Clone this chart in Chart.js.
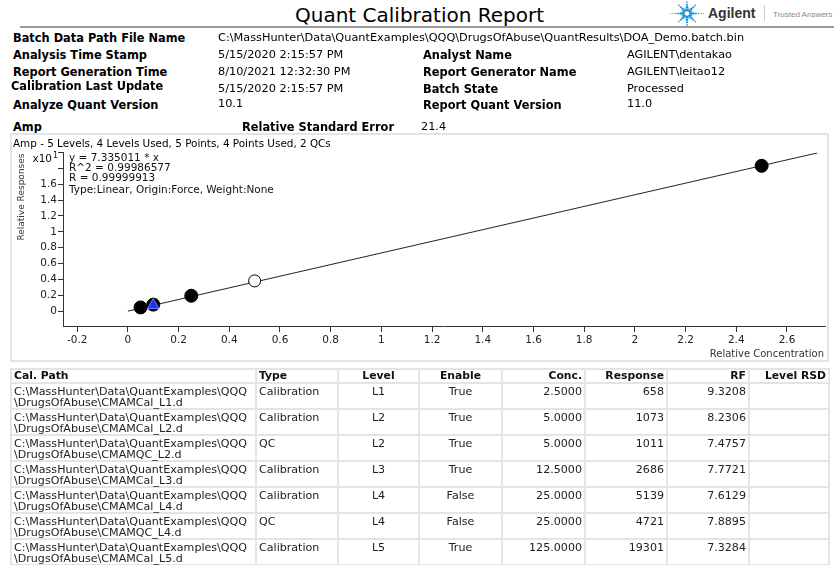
<!DOCTYPE html>
<html>
<head>
<meta charset="utf-8">
<title>Quant Calibration Report</title>
<script src="https://cdn.jsdelivr.net/npm/chart.js@4.4.1/dist/chart.umd.min.js"></script>
<style>
  body { margin: 0; width: 834px; height: 565px; background: #fff; position: relative; overflow: hidden;
         font-family: "DejaVu Sans", sans-serif; color: #000; }
  .abs { position: absolute; white-space: nowrap; }
  .lbl { font-weight: bold; font-size: 11.4px; line-height: 14px; }
  .val { font-size: 11.3px; line-height: 14px; }
  #title { left: 295px; top: 3px; font-size: 20px; line-height: 24px; }
  #rule { position: absolute; left: 20px; top: 26px; width: 814px; height: 2px; background: #9a9a9a; }
  #brand { left: 708px; top: 5px; font-family: "Liberation Sans", sans-serif; font-weight: bold; font-size: 14px;
           line-height: 16px; color: #333; }
  #divider { position: absolute; left: 764px; top: 5px; width: 1px; height: 16px; background: #ccc; }
  #tagline { left: 773px; top: 10px; font-family: "Liberation Sans", sans-serif; font-size: 8px; line-height: 10px; color: #888; }
  #chartBox { position: absolute; left: 10px; top: 133px; width: 815px; height: 225px; border: 2px solid #e4e4e4; }
  #chartHead { left: 13px; top: 136px; font-size: 10.4px; line-height: 14px; }
  #chart { position: absolute; left: 0; top: 145px; }
  #calTable { position: absolute; left: 10px; top: 368px; border-collapse: collapse; table-layout: fixed;
              font-size: 11.1px; color: #222; }
  #calTable td, #calTable th { border: 2px solid #e4e4e4; padding: 0 2px; overflow: visible; white-space: nowrap; }
  #calTable th { font-weight: bold; font-size: 10.8px; line-height: 12px; height: 12px; color: #111; }
  #calTable td { vertical-align: top; line-height: 11px; height: 22px; padding-top: 2px; }
  .l { text-align: left; } .c { text-align: center; } .r { text-align: right; }
</style>
</head>
<body>

<div id="title" class="abs">Quant Calibration Report</div>
<canvas id="spark" width="40" height="28" style="position:absolute;left:667px;top:0"></canvas>
<div id="brand" class="abs">Agilent</div>
<div id="divider"></div>
<div id="tagline" class="abs">Trusted Answers</div>
<div id="rule"></div>

<div class="abs lbl" style="left:13px;top:31px">Batch Data Path File Name</div>
<div class="abs val" style="left:218px;top:31px">C:\MassHunter\Data\QuantExamples\QQQ\DrugsOfAbuse\QuantResults\DOA_Demo.batch.bin</div>

<div class="abs lbl" style="left:13px;top:48px">Analysis Time Stamp</div>
<div class="abs val" style="left:218px;top:48px">5/15/2020 2:15:57 PM</div>
<div class="abs lbl" style="left:423px;top:48px">Analyst Name</div>
<div class="abs val" style="left:627px;top:48px">AGILENT\dentakao</div>

<div class="abs lbl" style="left:13px;top:65px">Report Generation Time</div>
<div class="abs val" style="left:218px;top:65px">8/10/2021 12:32:30 PM</div>
<div class="abs lbl" style="left:423px;top:65px">Report Generator Name</div>
<div class="abs val" style="left:627px;top:65px">AGILENT\leitao12</div>

<div class="abs lbl" style="left:11px;top:79px">Calibration Last Update</div>
<div class="abs val" style="left:218px;top:82px">5/15/2020 2:15:57 PM</div>
<div class="abs lbl" style="left:423px;top:82px">Batch State</div>
<div class="abs val" style="left:627px;top:82px">Processed</div>

<div class="abs lbl" style="left:13px;top:98px">Analyze Quant Version</div>
<div class="abs val" style="left:218px;top:97px">10.1</div>
<div class="abs lbl" style="left:423px;top:98px">Report Quant Version</div>
<div class="abs val" style="left:627px;top:97px">11.0</div>

<div class="abs lbl" style="left:13px;top:120px">Amp</div>
<div class="abs lbl" style="left:242px;top:120px">Relative Standard Error</div>
<div class="abs val" style="left:421px;top:120px">21.4</div>

<div id="chartBox"></div>
<div id="chartHead" class="abs">Amp - 5 Levels, 4 Levels Used, 5 Points, 4 Points Used, 2 QCs</div>
<canvas id="chart" width="834" height="215"></canvas>

<table id="calTable"></table>

<script>
// calibration points (relative concentration vs relative response, response in x10^1)
const calConc = [0.05, 0.1, 0.25, 2.5];
const calResp = [0.047, 0.082, 0.194, 1.832];
const offConc = [0.5];          // level excluded from the fit
const offResp = [0.381];
const qcConc = [0.1];
const qcResp = [0.075];
// fitted curve y = 7.335011 * x, drawn in x10^1 units
const fitConc = [0, 2.72];
const fitResp = [0, 1.995];

const xTicks = [-0.2, 0, 0.2, 0.4, 0.6, 0.8, 1, 1.2, 1.4, 1.6, 1.8, 2, 2.2, 2.4, 2.6];
const yTicks = [0, 0.2, 0.4, 0.6, 0.8, 1, 1.2, 1.4, 1.6, 1.8, 2];

const fitText = [
  'y = 7.335011 * x',
  'R^2 = 0.99986577',
  'R = 0.99999913',
  'Type:Linear, Origin:Force, Weight:None'
];

// table rows
const calPaths = [
  'C:\\MassHunter\\Data\\QuantExamples\\QQQ\\DrugsOfAbuse\\CMAMCal_L1.d',
  'C:\\MassHunter\\Data\\QuantExamples\\QQQ\\DrugsOfAbuse\\CMAMCal_L2.d',
  'C:\\MassHunter\\Data\\QuantExamples\\QQQ\\DrugsOfAbuse\\CMAMQC_L2.d',
  'C:\\MassHunter\\Data\\QuantExamples\\QQQ\\DrugsOfAbuse\\CMAMCal_L3.d',
  'C:\\MassHunter\\Data\\QuantExamples\\QQQ\\DrugsOfAbuse\\CMAMCal_L4.d',
  'C:\\MassHunter\\Data\\QuantExamples\\QQQ\\DrugsOfAbuse\\CMAMQC_L4.d',
  'C:\\MassHunter\\Data\\QuantExamples\\QQQ\\DrugsOfAbuse\\CMAMCal_L5.d'
];
const sampleTypes = ['Calibration', 'Calibration', 'QC', 'Calibration', 'Calibration', 'QC', 'Calibration'];
const levels = ['L1', 'L2', 'L2', 'L3', 'L4', 'L4', 'L5'];
const enabled = ['True', 'True', 'True', 'True', 'False', 'False', 'True'];
const concs = ['2.5000', '5.0000', '5.0000', '12.5000', '25.0000', '25.0000', '125.0000'];
const responses = ['658', '1073', '1011', '2686', '5139', '4721', '19301'];
const rfs = ['9.3208', '8.2306', '7.4757', '7.7721', '7.6129', '7.8895', '7.3284'];

const colWidths = [245, 82, 81, 83, 83, 82, 82, 80];
const headers = [['Cal. Path', 'l'], ['Type', 'l'], ['Level', 'c'], ['Enable', 'c'],
                 ['Conc.', 'r'], ['Response', 'r'], ['RF', 'r'], ['Level RSD', 'r']];

// ---- table ----
let html = '<colgroup>' + colWidths.map(w => `<col style="width:${w}px">`).join('') + '</colgroup>';
html += '<tr>' + headers.map(h => `<th class="${h[1]}">${h[0]}</th>`).join('') + '</tr>';
calPaths.forEach((p, i) => {
  const path = p.replace('QQQ\\', 'QQQ<br>\\');
  html += '<tr>' +
    `<td class="l">${path}</td>` +
    `<td class="l">${sampleTypes[i]}</td>` +
    `<td class="c">${levels[i]}</td>` +
    `<td class="c">${enabled[i]}</td>` +
    `<td class="r">${concs[i]}</td>` +
    `<td class="r">${responses[i]}</td>` +
    `<td class="r">${rfs[i]}</td>` +
    '<td></td></tr>';
});
document.getElementById('calTable').innerHTML = html;

// ---- logo spark ----
(function () {
  const c = document.getElementById('spark').getContext('2d');
  const cx = 20, cy = 13.5;
  c.fillStyle = '#1590d8';
  const rays = [[0, 6], [180, 6], [90, 5], [270, 5], [45, 4], [135, 4], [225, 4], [315, 4]];
  rays.forEach(([deg, n]) => {
    const a = deg * Math.PI / 180;
    for (let k = 1; k <= n; k++) {
      const d = 2.6 * k + 1;
      const r = Math.max(0.55, 1.7 - k * 0.22);
      c.beginPath();
      c.arc(cx + Math.cos(a) * d, cy - Math.sin(a) * d, r, 0, Math.PI * 2);
      c.fill();
    }
  });
  for (let deg = 22.5; deg < 360; deg += 45) {
    const a = deg * Math.PI / 180;
    c.beginPath();
    c.arc(cx + Math.cos(a) * 5, cy - Math.sin(a) * 5, 0.7, 0, Math.PI * 2);
    c.fill();
  }
})();

// ---- chart ----
const fmt = v => String(Math.round(v * 10) / 10);
const toPts = (xs, ys) => xs.map((x, i) => ({ x: x, y: ys[i] }));

const chartText = {
  id: 'chartText',
  afterDraw(chart) {
    const { ctx, chartArea: a } = chart;
    ctx.save();
    ctx.fillStyle = '#111';
    ctx.textBaseline = 'middle';

    ctx.font = '10.5px "DejaVu Sans"';
    ctx.textAlign = 'left';
    const offs = [6, 16, 26, 38];
    fitText.forEach((t, i) => ctx.fillText(t, a.left + 6, a.top + offs[i]));

    // exponent label in place of the top y ticks
    ctx.textAlign = 'right';
    ctx.fillText('x10', a.left - 11, a.top + 7);
    ctx.font = '8px "DejaVu Sans"';
    ctx.textAlign = 'left';
    ctx.fillText('1', a.left - 10, a.top + 3);

    // axis titles
    ctx.fillStyle = '#333';
    ctx.font = '10px "DejaVu Sans"';
    ctx.textAlign = 'right';
    ctx.fillText('Relative Concentration', a.right - 1, a.bottom + 28);

    ctx.save();
    ctx.translate(22, a.top + 1);
    ctx.rotate(-Math.PI / 2);
    ctx.font = '9px "DejaVu Sans"';
    ctx.textAlign = 'right';
    ctx.fillText('Relative Responses', 0, 0);
    ctx.restore();
    ctx.restore();
  }
};

Chart.defaults.font.family = '"DejaVu Sans", sans-serif';

new Chart(document.getElementById('chart'), {
  type: 'scatter',
  data: {
    datasets: [
      {
        label: 'QC',
        data: toPts(qcConc, qcResp),
        pointStyle: 'triangle',
        pointRadius: 6.5,
        backgroundColor: '#1a30ff',
        borderColor: '#7080ff',
        borderWidth: 1,
        order: 1
      },
      {
        label: 'Calibration',
        data: toPts(calConc, calResp),
        pointStyle: 'circle',
        pointRadius: 6.5,
        backgroundColor: '#000',
        borderColor: '#000',
        borderWidth: 1,
        order: 2
      },
      {
        label: 'Excluded',
        data: toPts(offConc, offResp),
        pointStyle: 'circle',
        pointRadius: 6,
        backgroundColor: '#fff',
        borderColor: '#000',
        borderWidth: 1,
        order: 3
      },
      {
        label: 'Fit',
        data: toPts(fitConc, fitResp),
        showLine: true,
        pointRadius: 0,
        borderColor: '#222',
        borderWidth: 1,
        order: 4
      }
    ]
  },
  options: {
    responsive: false,
    animation: false,
    devicePixelRatio: 1,
    layout: { padding: { top: 6, right: 9, left: 0, bottom: 0 } },
    plugins: { legend: { display: false }, tooltip: { enabled: false } },
    scales: {
      x: {
        type: 'linear',
        position: 'bottom',
        min: -0.256,
        max: 2.75,
        afterBuildTicks: s => { s.ticks = xTicks.map(v => ({ value: v })); },
        afterFit: s => { s.height = 34; },
        ticks: { callback: v => fmt(v), color: '#222', font: { size: 10.5 }, padding: 2,
                 maxRotation: 0, autoSkip: false },
        grid: { drawOnChartArea: false, drawTicks: true, tickLength: 6, color: '#333' },
        border: { color: '#333', width: 1 }
      },
      y: {
        type: 'linear',
        min: -0.1875,
        max: 2,
        afterBuildTicks: s => { s.ticks = yTicks.map(v => ({ value: v })); },
        afterFit: s => { s.width = 63; },
        ticks: { callback: v => (v > 1.7 ? '' : fmt(v)), color: '#222', font: { size: 10.5 }, padding: 1,
                 autoSkip: false },
        grid: { drawOnChartArea: false, drawTicks: true, tickLength: 5, color: '#333' },
        border: { color: '#333', width: 1 }
      }
    }
  },
  plugins: [chartText]
});
</script>
</body>
</html>
